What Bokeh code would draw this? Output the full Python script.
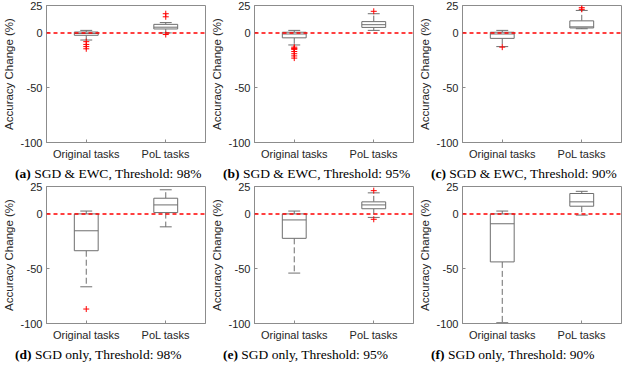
from bokeh.plotting import figure
from bokeh.layouts import column, row
from bokeh.models import Span, Div, FixedTicker, Range1d, ColumnDataSource
from bokeh.transform import dodge
from bokeh.embed import file_html
from bokeh.resources import INLINE
import html

# ---------------- data ----------------
group_labels = ["Original tasks", "PoL tasks"]
group_pos = [1, 2]
y_ticks = [-100, -50, 0, 25]
y_tick_labels = ["-100", "-50", "0", "25"]
y_label = "Accuracy Change (%)"

panel_letters = ["(a)", "(b)", "(c)", "(d)", "(e)", "(f)"]
panel_captions = [
    "SGD & EWC, Threshold: 98%",
    "SGD & EWC, Threshold: 95%",
    "SGD & EWC, Threshold: 90%",
    "SGD only, Threshold: 98%",
    "SGD only, Threshold: 95%",
    "SGD only, Threshold: 90%",
]

# box statistics, one entry per panel: [Original tasks, PoL tasks]
box_q1 = [[-2.2, 3.6], [-4.5, 5.0], [-5.0, 4.5], [-33.6, 1.2], [-22.3, 4.7], [-43.8, 7.0]]
box_median = [[-0.5, 5.2], [-1.0, 7.5], [-1.0, 5.5], [-15.4, 8.2], [-5.5, 8.2], [-9.0, 11.0]]
box_q3 = [[0.8, 7.8], [0.6, 10.3], [0.6, 11.0], [0.0, 14.3], [0.0, 11.0], [0.0, 18.6]]
whisker_low = [[-6.5, 0.0], [-11.0, 2.3], [-12.5, 3.8], [-66.5, -11.8], [-54.0, -3.2], [-99.3, -1.1]]
whisker_high = [[2.3, 9.4], [2.3, 17.5], [2.3, 20.5], [2.6, 22.0], [2.6, 19.2], [2.6, 20.6]]

# outliers per panel: (group position, value)
outlier_group = [
    [1, 1, 1, 1, 2, 2, 2],
    [1, 1, 1, 1, 1, 1, 1, 1, 2],
    [1, 2, 2],
    [1],
    [2, 2],
    [],
]
outlier_value = [
    [-8.0, -10.5, -12.5, -14.5, -1.5, 14.7, 17.5],
    [-13.0, -14.0, -14.5, -15.0, -17.0, -19.0, -21.0, -23.0, 19.7],
    [-13.0, 21.5, 23.0],
    [-86.8],
    [21.2, -4.9],
    [],
]

# ---------------- style ----------------
SANS = "Liberation Sans"
SERIF = "Liberation Serif"
SPINE = "#8c8c8c"
BOX = "#6e6e6e"
TEXT = "#262626"
CAP_SIZE = 13.5
CELL_W = 208


def make_panel(i):
    p = figure(width=CELL_W, height=164, x_range=Range1d(0.5, 2.5), y_range=Range1d(-100, 25),
               output_backend="svg", toolbar_location=None,
               min_border_left=43, min_border_right=3, min_border_top=5, min_border_bottom=22)
    p.background_fill_color = "white"
    p.border_fill_color = "white"
    p.outline_line_color = SPINE
    p.grid.visible = False

    p.xaxis.ticker = FixedTicker(ticks=group_pos)
    p.xaxis.major_label_overrides = {pos: lab for pos, lab in zip(group_pos, group_labels)}
    p.yaxis.ticker = FixedTicker(ticks=y_ticks)
    p.yaxis.major_label_overrides = {t: lab for t, lab in zip(y_ticks, y_tick_labels)}
    for ax in (p.xaxis, p.yaxis):
        ax.axis_line_color = SPINE
        ax.major_tick_line_color = SPINE
        ax.major_tick_in = 3
        ax.major_tick_out = 0
        ax.minor_tick_line_color = None
        ax.major_label_text_font = SANS
        ax.major_label_text_font_size = "11px"
        ax.major_label_text_color = TEXT
    p.xaxis.major_label_standoff = 5
    p.yaxis.major_label_standoff = 4
    p.yaxis.axis_label = y_label
    p.yaxis.axis_label_text_font = SANS
    p.yaxis.axis_label_text_font_style = "normal"
    p.yaxis.axis_label_text_font_size = "11.5px"
    p.yaxis.axis_label_text_color = TEXT
    p.yaxis.axis_label_standoff = 2

    src = ColumnDataSource(dict(x=group_pos, q1=box_q1[i], med=box_median[i], q3=box_q3[i],
                                lo=whisker_low[i], hi=whisker_high[i]))
    # whiskers
    p.segment(x0="x", x1="x", y0="q3", y1="hi", source=src, line_color=BOX, line_width=1,
              line_dash="6 3")
    p.segment(x0="x", x1="x", y0="q1", y1="lo", source=src, line_color=BOX, line_width=1,
              line_dash="6 3")
    # caps
    p.segment(x0=dodge("x", -0.075, range=p.x_range), x1=dodge("x", 0.075, range=p.x_range),
              y0="hi", y1="hi", source=src, line_color=BOX, line_width=1)
    p.segment(x0=dodge("x", -0.075, range=p.x_range), x1=dodge("x", 0.075, range=p.x_range),
              y0="lo", y1="lo", source=src, line_color=BOX, line_width=1)
    # boxes
    p.vbar(x="x", width=0.3, bottom="q1", top="q3", source=src, fill_color="white",
           line_color=BOX, line_width=1)
    # medians
    p.segment(x0=dodge("x", -0.15, range=p.x_range), x1=dodge("x", 0.15, range=p.x_range),
              y0="med", y1="med", source=src, line_color=BOX, line_width=1)
    # outliers
    osrc = ColumnDataSource(dict(x=outlier_group[i], y=outlier_value[i]))
    p.scatter(x="x", y="y", source=osrc, marker="cross", size=6, line_color="red",
              line_width=1)

    p.add_layout(Span(location=0, dimension="width", line_color="red", line_width=1.5,
                      line_dash="4 3"))
    return p


def make_caption(i):
    body = (f'<div style="font-family: \'{SERIF}\', serif; font-size: {CAP_SIZE}px; '
            f'line-height: 17px; padding-top: 1px; padding-left: 15px; white-space: nowrap; '
            f'color: black;"><b>{html.escape(panel_letters[i])}</b>&nbsp;'
            f'{html.escape(panel_captions[i])}</div>')
    return Div(text=body, width=CELL_W, height=17, margin=(0, 0, 0, 0))


panels = [make_panel(i) for i in range(6)]
captions = [make_caption(i) for i in range(6)]
cells = [column(panels[i], captions[i], spacing=0) for i in range(6)]
layout = column(row(cells[0:3], spacing=0), row(cells[3:6], spacing=0), spacing=0)

open("out.html", "w").write(file_html(layout, INLINE))
